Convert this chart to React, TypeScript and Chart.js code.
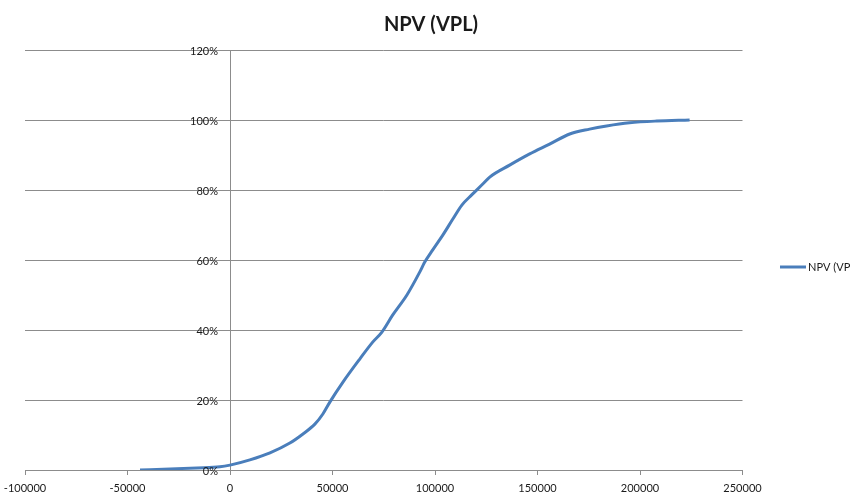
import React, { useEffect, useRef } from "react";
import { Chart, registerables } from "chart.js";

Chart.register(...registerables);

const chartTitle = "NPV (VPL)";
const seriesLabel = "NPV (VPL)";
const npvValues = [
  -43900, -29200, -16100, -4900, 0, 9700, 19500, 29200, 35600, 41400, 45300,
  48700, 55100, 63300, 69700, 74100, 79400, 86300, 92600, 95000, 98900, 103800,
  108700, 113100, 117900, 123300, 126700, 136400, 146200, 155900, 165700,
  175400, 183700, 194900, 208100, 224200,
];
const cumulative = [
  0, 0.003, 0.006, 0.009, 0.014, 0.029, 0.049, 0.077, 0.103, 0.131, 0.16,
  0.194, 0.251, 0.317, 0.366, 0.394, 0.443, 0.5, 0.566, 0.594, 0.629, 0.671,
  0.717, 0.757, 0.786, 0.817, 0.837, 0.871, 0.903, 0.931, 0.96, 0.974, 0.983,
  0.992, 0.997, 1.0,
];
const xTickMin = -100000;
const xTickMax = 250000;
const xTickStep = 50000;
const yTickMin = 0;
const yTickMax = 1.2;
const yTickStep = 0.2;

const LINE_COLOR = "#4A7EBB";
const GRID_COLOR = "#8C8C8C";
const TEXT_COLOR = "#1a1a1a";
const FONT = "Lato";

const fmtPct = (v: number) => Math.round(v * 100) + "%";

export default function App() {
  const ref = useRef<HTMLCanvasElement | null>(null);

  useEffect(() => {
    if (!ref.current) return;
    const overlay = {
      id: "overlay",
      afterDraw(chart: any) {
        const ctx = chart.ctx;
        const xs = chart.scales.x;
        const ys = chart.scales.y;
        ctx.save();
        ctx.fillStyle = TEXT_COLOR;
        // y tick labels, placed left of the y axis (which sits at x = 0)
        ctx.font = `11px ${FONT}`;
        ctx.textAlign = "right";
        ctx.textBaseline = "middle";
        const axisX = xs.getPixelForValue(0);
        ys.ticks.forEach((t: any) => {
          ctx.fillText(fmtPct(t.value), axisX - 12, ys.getPixelForValue(t.value) + 1);
        });
        // title
        ctx.font = `bold 20px ${FONT}`;
        ctx.textAlign = "center";
        ctx.textBaseline = "alphabetic";
        ctx.fillText(chartTitle, 431, 31);
        // legend
        ctx.strokeStyle = LINE_COLOR;
        ctx.lineWidth = 3;
        ctx.beginPath();
        ctx.moveTo(780, 267);
        ctx.lineTo(806, 267);
        ctx.stroke();
        ctx.font = `11px ${FONT}`;
        ctx.textAlign = "left";
        ctx.textBaseline = "middle";
        ctx.fillText(seriesLabel, 808, 267);
        ctx.restore();
      },
    };
    const chart = new Chart(ref.current, {
      type: "line",
      data: {
        datasets: [
          {
            label: seriesLabel,
            data: npvValues.map((x, i) => ({ x, y: cumulative[i] })),
            borderColor: LINE_COLOR,
            backgroundColor: LINE_COLOR,
            borderWidth: 3,
            pointRadius: 0,
            cubicInterpolationMode: "monotone",
            fill: false,
          },
        ],
      },
      options: {
        responsive: false,
        animation: false,
        devicePixelRatio: 1,
        layout: { padding: { left: 25, right: 137.5, top: 50, bottom: 0 } },
        plugins: {
          legend: { display: false },
          title: { display: false },
          tooltip: { enabled: false },
        },
        scales: {
          x: {
            type: "linear",
            min: xTickMin,
            max: xTickMax,
            afterFit: (scale: any) => {
              scale.height = 25;
              scale.paddingLeft = 0;
              scale.paddingRight = 0;
            },
            ticks: {
              stepSize: xTickStep,
              color: TEXT_COLOR,
              font: { family: FONT, size: 11 },
              padding: 7,
              maxRotation: 0,
              autoSkip: false,
              callback: (v: any) => String(v),
            },
            grid: {
              drawOnChartArea: false,
              drawTicks: true,
              tickLength: 5,
              color: GRID_COLOR,
            },
            border: { display: true, color: GRID_COLOR, width: 1 },
          },
          y: {
            type: "linear",
            position: { x: 0 } as any,
            min: yTickMin,
            max: yTickMax,
            ticks: {
              stepSize: yTickStep,
              display: false,
            },
            grid: { color: GRID_COLOR, drawTicks: false, lineWidth: 1 },
            border: { display: true, color: GRID_COLOR, width: 1 },
          },
        },
      },
      plugins: [overlay],
    });
    return () => chart.destroy();
  }, []);

  return (
    <div
      style={{
        position: "fixed",
        left: 0,
        top: 0,
        width: 851,
        height: 495,
        overflow: "hidden",
        background: "#fff",
      }}
    >
      <canvas ref={ref} width={880} height={495} style={{ display: "block" }} />
    </div>
  );
}
